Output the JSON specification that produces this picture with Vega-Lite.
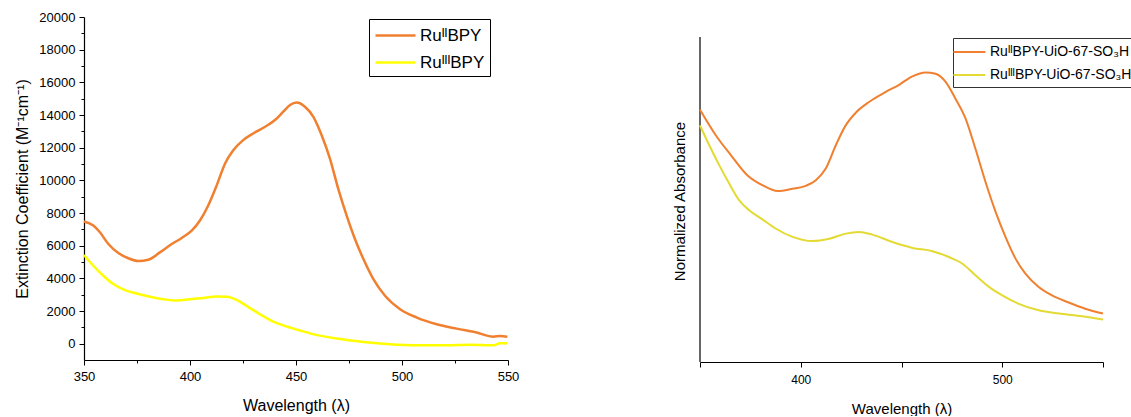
{
  "$schema": "https://vega.github.io/schema/vega-lite/v6.json",
  "background": "white",
  "padding": {"left": 14, "top": 11, "right": 0, "bottom": 0},
  "spacing": 153,
  "config": {
    "font": "Liberation Sans",
    "view": {"stroke": null},
    "axis": {"grid": false, "domainColor": "#000000", "tickColor": "#000000", "labelColor": "#000000", "titleColor": "#000000", "titleFontWeight": "normal", "labelFont": "Liberation Sans", "titleFont": "Liberation Sans"},
    "legend": {"labelFont": "Liberation Sans"}
  },
  "resolve": {"scale": {"color": "independent"}, "legend": {"color": "independent"}},
  "datasets": {
    "left": [
      {"wl": 350.0, "v": 7480, "s": "RuᴵᴵBPY"},
      {"wl": 354.4, "v": 7230, "s": "RuᴵᴵBPY"},
      {"wl": 357.5, "v": 6820, "s": "RuᴵᴵBPY"},
      {"wl": 361.5, "v": 6100, "s": "RuᴵᴵBPY"},
      {"wl": 366.2, "v": 5550, "s": "RuᴵᴵBPY"},
      {"wl": 370.9, "v": 5230, "s": "RuᴵᴵBPY"},
      {"wl": 375.6, "v": 5060, "s": "RuᴵᴵBPY"},
      {"wl": 380.3, "v": 5140, "s": "RuᴵᴵBPY"},
      {"wl": 385.8, "v": 5590, "s": "RuᴵᴵBPY"},
      {"wl": 391.4, "v": 6100, "s": "RuᴵᴵBPY"},
      {"wl": 396.1, "v": 6470, "s": "RuᴵᴵBPY"},
      {"wl": 400.8, "v": 6920, "s": "RuᴵᴵBPY"},
      {"wl": 404.7, "v": 7540, "s": "RuᴵᴵBPY"},
      {"wl": 408.6, "v": 8460, "s": "RuᴵᴵBPY"},
      {"wl": 412.6, "v": 9690, "s": "RuᴵᴵBPY"},
      {"wl": 416.5, "v": 11020, "s": "RuᴵᴵBPY"},
      {"wl": 420.4, "v": 11840, "s": "RuᴵᴵBPY"},
      {"wl": 425.1, "v": 12460, "s": "RuᴵᴵBPY"},
      {"wl": 429.8, "v": 12870, "s": "RuᴵᴵBPY"},
      {"wl": 435.4, "v": 13280, "s": "RuᴵᴵBPY"},
      {"wl": 440.1, "v": 13690, "s": "RuᴵᴵBPY"},
      {"wl": 444.0, "v": 14200, "s": "RuᴵᴵBPY"},
      {"wl": 447.2, "v": 14610, "s": "RuᴵᴵBPY"},
      {"wl": 450.3, "v": 14760, "s": "RuᴵᴵBPY"},
      {"wl": 454.2, "v": 14510, "s": "RuᴵᴵBPY"},
      {"wl": 458.2, "v": 13890, "s": "RuᴵᴵBPY"},
      {"wl": 462.1, "v": 12760, "s": "RuᴵᴵBPY"},
      {"wl": 466.0, "v": 11330, "s": "RuᴵᴵBPY"},
      {"wl": 469.9, "v": 9490, "s": "RuᴵᴵBPY"},
      {"wl": 473.9, "v": 7840, "s": "RuᴵᴵBPY"},
      {"wl": 477.8, "v": 6410, "s": "RuᴵᴵBPY"},
      {"wl": 481.8, "v": 5180, "s": "RuᴵᴵBPY"},
      {"wl": 486.5, "v": 3950, "s": "RuᴵᴵBPY"},
      {"wl": 492.0, "v": 2930, "s": "RuᴵᴵBPY"},
      {"wl": 499.1, "v": 2110, "s": "RuᴵᴵBPY"},
      {"wl": 507.0, "v": 1600, "s": "RuᴵᴵBPY"},
      {"wl": 516.4, "v": 1190, "s": "RuᴵᴵBPY"},
      {"wl": 525.8, "v": 920, "s": "RuᴵᴵBPY"},
      {"wl": 535.2, "v": 680, "s": "RuᴵᴵBPY"},
      {"wl": 543.1, "v": 430, "s": "RuᴵᴵBPY"},
      {"wl": 546.2, "v": 470, "s": "RuᴵᴵBPY"},
      {"wl": 549.7, "v": 430, "s": "RuᴵᴵBPY"},
      {"wl": 350.0, "v": 5430, "s": "RuᴵᴵᴵBPY"},
      {"wl": 354.4, "v": 4770, "s": "RuᴵᴵᴵBPY"},
      {"wl": 359.1, "v": 4160, "s": "RuᴵᴵᴵBPY"},
      {"wl": 363.8, "v": 3650, "s": "RuᴵᴵᴵBPY"},
      {"wl": 369.3, "v": 3280, "s": "RuᴵᴵᴵBPY"},
      {"wl": 374.8, "v": 3070, "s": "RuᴵᴵᴵBPY"},
      {"wl": 381.1, "v": 2870, "s": "RuᴵᴵᴵBPY"},
      {"wl": 387.4, "v": 2720, "s": "RuᴵᴵᴵBPY"},
      {"wl": 393.7, "v": 2640, "s": "RuᴵᴵᴵBPY"},
      {"wl": 400.0, "v": 2720, "s": "RuᴵᴵᴵBPY"},
      {"wl": 406.3, "v": 2800, "s": "RuᴵᴵᴵBPY"},
      {"wl": 412.6, "v": 2890, "s": "RuᴵᴵᴵBPY"},
      {"wl": 417.3, "v": 2870, "s": "RuᴵᴵᴵBPY"},
      {"wl": 422.0, "v": 2680, "s": "RuᴵᴵᴵBPY"},
      {"wl": 426.7, "v": 2310, "s": "RuᴵᴵᴵBPY"},
      {"wl": 433.0, "v": 1800, "s": "RuᴵᴵᴵBPY"},
      {"wl": 439.3, "v": 1350, "s": "RuᴵᴵᴵBPY"},
      {"wl": 445.6, "v": 1050, "s": "RuᴵᴵᴵBPY"},
      {"wl": 451.1, "v": 840, "s": "RuᴵᴵᴵBPY"},
      {"wl": 456.6, "v": 630, "s": "RuᴵᴵᴵBPY"},
      {"wl": 469.2, "v": 310, "s": "RuᴵᴵᴵBPY"},
      {"wl": 481.8, "v": 100, "s": "RuᴵᴵᴵBPY"},
      {"wl": 494.3, "v": -40, "s": "RuᴵᴵᴵBPY"},
      {"wl": 507.0, "v": -100, "s": "RuᴵᴵᴵBPY"},
      {"wl": 519.5, "v": -100, "s": "RuᴵᴵᴵBPY"},
      {"wl": 532.1, "v": -60, "s": "RuᴵᴵᴵBPY"},
      {"wl": 543.1, "v": -100, "s": "RuᴵᴵᴵBPY"},
      {"wl": 546.2, "v": 20, "s": "RuᴵᴵᴵBPY"},
      {"wl": 549.7, "v": 20, "s": "RuᴵᴵᴵBPY"}
    ],
    "right": [
      {"wl": 350.0, "v": 0.776, "s": "RuᴵᴵBPY-UiO-67-SO₃H"},
      {"wl": 357.9, "v": 0.697, "s": "RuᴵᴵBPY-UiO-67-SO₃H"},
      {"wl": 365.4, "v": 0.636, "s": "RuᴵᴵBPY-UiO-67-SO₃H"},
      {"wl": 373.6, "v": 0.574, "s": "RuᴵᴵBPY-UiO-67-SO₃H"},
      {"wl": 381.0, "v": 0.544, "s": "RuᴵᴵBPY-UiO-67-SO₃H"},
      {"wl": 388.5, "v": 0.526, "s": "RuᴵᴵBPY-UiO-67-SO₃H"},
      {"wl": 395.9, "v": 0.533, "s": "RuᴵᴵBPY-UiO-67-SO₃H"},
      {"wl": 402.5, "v": 0.542, "s": "RuᴵᴵBPY-UiO-67-SO₃H"},
      {"wl": 407.5, "v": 0.559, "s": "RuᴵᴵBPY-UiO-67-SO₃H"},
      {"wl": 412.4, "v": 0.595, "s": "RuᴵᴵBPY-UiO-67-SO₃H"},
      {"wl": 417.4, "v": 0.667, "s": "RuᴵᴵBPY-UiO-67-SO₃H"},
      {"wl": 422.3, "v": 0.728, "s": "RuᴵᴵBPY-UiO-67-SO₃H"},
      {"wl": 427.3, "v": 0.767, "s": "RuᴵᴵBPY-UiO-67-SO₃H"},
      {"wl": 433.9, "v": 0.800, "s": "RuᴵᴵBPY-UiO-67-SO₃H"},
      {"wl": 442.2, "v": 0.831, "s": "RuᴵᴵBPY-UiO-67-SO₃H"},
      {"wl": 448.8, "v": 0.853, "s": "RuᴵᴵBPY-UiO-67-SO₃H"},
      {"wl": 455.4, "v": 0.879, "s": "RuᴵᴵBPY-UiO-67-SO₃H"},
      {"wl": 462.0, "v": 0.891, "s": "RuᴵᴵBPY-UiO-67-SO₃H"},
      {"wl": 466.9, "v": 0.887, "s": "RuᴵᴵBPY-UiO-67-SO₃H"},
      {"wl": 471.9, "v": 0.862, "s": "RuᴵᴵBPY-UiO-67-SO₃H"},
      {"wl": 476.8, "v": 0.810, "s": "RuᴵᴵBPY-UiO-67-SO₃H"},
      {"wl": 481.8, "v": 0.749, "s": "RuᴵᴵBPY-UiO-67-SO₃H"},
      {"wl": 486.7, "v": 0.656, "s": "RuᴵᴵBPY-UiO-67-SO₃H"},
      {"wl": 491.7, "v": 0.554, "s": "RuᴵᴵBPY-UiO-67-SO₃H"},
      {"wl": 496.7, "v": 0.462, "s": "RuᴵᴵBPY-UiO-67-SO₃H"},
      {"wl": 501.6, "v": 0.385, "s": "RuᴵᴵBPY-UiO-67-SO₃H"},
      {"wl": 506.6, "v": 0.318, "s": "RuᴵᴵBPY-UiO-67-SO₃H"},
      {"wl": 511.5, "v": 0.272, "s": "RuᴵᴵBPY-UiO-67-SO₃H"},
      {"wl": 518.1, "v": 0.231, "s": "RuᴵᴵBPY-UiO-67-SO₃H"},
      {"wl": 524.7, "v": 0.205, "s": "RuᴵᴵBPY-UiO-67-SO₃H"},
      {"wl": 533.0, "v": 0.183, "s": "RuᴵᴵBPY-UiO-67-SO₃H"},
      {"wl": 541.2, "v": 0.164, "s": "RuᴵᴵBPY-UiO-67-SO₃H"},
      {"wl": 550.0, "v": 0.149, "s": "RuᴵᴵBPY-UiO-67-SO₃H"},
      {"wl": 350.0, "v": 0.728, "s": "RuᴵᴵᴵBPY-UiO-67-SO₃H"},
      {"wl": 354.6, "v": 0.667, "s": "RuᴵᴵᴵBPY-UiO-67-SO₃H"},
      {"wl": 359.6, "v": 0.605, "s": "RuᴵᴵᴵBPY-UiO-67-SO₃H"},
      {"wl": 364.5, "v": 0.549, "s": "RuᴵᴵᴵBPY-UiO-67-SO₃H"},
      {"wl": 369.5, "v": 0.497, "s": "RuᴵᴵᴵBPY-UiO-67-SO₃H"},
      {"wl": 374.4, "v": 0.467, "s": "RuᴵᴵᴵBPY-UiO-67-SO₃H"},
      {"wl": 381.0, "v": 0.439, "s": "RuᴵᴵᴵBPY-UiO-67-SO₃H"},
      {"wl": 387.7, "v": 0.410, "s": "RuᴵᴵᴵBPY-UiO-67-SO₃H"},
      {"wl": 395.9, "v": 0.385, "s": "RuᴵᴵᴵBPY-UiO-67-SO₃H"},
      {"wl": 405.8, "v": 0.372, "s": "RuᴵᴵᴵBPY-UiO-67-SO₃H"},
      {"wl": 414.1, "v": 0.379, "s": "RuᴵᴵᴵBPY-UiO-67-SO₃H"},
      {"wl": 422.3, "v": 0.395, "s": "RuᴵᴵᴵBPY-UiO-67-SO₃H"},
      {"wl": 428.9, "v": 0.400, "s": "RuᴵᴵᴵBPY-UiO-67-SO₃H"},
      {"wl": 435.5, "v": 0.392, "s": "RuᴵᴵᴵBPY-UiO-67-SO₃H"},
      {"wl": 445.5, "v": 0.369, "s": "RuᴵᴵᴵBPY-UiO-67-SO₃H"},
      {"wl": 455.4, "v": 0.351, "s": "RuᴵᴵᴵBPY-UiO-67-SO₃H"},
      {"wl": 465.3, "v": 0.341, "s": "RuᴵᴵᴵBPY-UiO-67-SO₃H"},
      {"wl": 473.5, "v": 0.323, "s": "RuᴵᴵᴵBPY-UiO-67-SO₃H"},
      {"wl": 480.1, "v": 0.303, "s": "RuᴵᴵᴵBPY-UiO-67-SO₃H"},
      {"wl": 486.7, "v": 0.267, "s": "RuᴵᴵᴵBPY-UiO-67-SO₃H"},
      {"wl": 493.4, "v": 0.231, "s": "RuᴵᴵᴵBPY-UiO-67-SO₃H"},
      {"wl": 500.0, "v": 0.205, "s": "RuᴵᴵᴵBPY-UiO-67-SO₃H"},
      {"wl": 508.2, "v": 0.179, "s": "RuᴵᴵᴵBPY-UiO-67-SO₃H"},
      {"wl": 518.1, "v": 0.159, "s": "RuᴵᴵᴵBPY-UiO-67-SO₃H"},
      {"wl": 528.0, "v": 0.149, "s": "RuᴵᴵᴵBPY-UiO-67-SO₃H"},
      {"wl": 539.6, "v": 0.141, "s": "RuᴵᴵᴵBPY-UiO-67-SO₃H"},
      {"wl": 550.0, "v": 0.131, "s": "RuᴵᴵᴵBPY-UiO-67-SO₃H"}
    ]
  },
  "hconcat": [
    {
      "width": 424,
      "height": 343,
      "data": {"name": "left"},
      "mark": {"type": "line", "strokeWidth": 2.5, "interpolate": "monotone"},
      "encoding": {
        "x": {"field": "wl", "type": "quantitative", "scale": {"domain": [350, 550], "nice": false},
          "axis": {"title": "Wavelength (λ)", "titleFontSize": 16, "titlePadding": 14, "labelFontSize": 13,
            "values": [350, 375, 400, 425, 450, 475, 500, 525, 550],
            "labelExpr": "datum.value % 50 == 0 ? datum.label : ''",
            "tickSize": {"condition": {"test": "datum.value % 50 == 0", "value": 5}, "value": 3},
            "labelPadding": 5, "domainWidth": 1.2, "labelFlush": false}},
        "y": {"field": "v", "type": "quantitative", "scale": {"domain": [-1000, 20000], "nice": false, "zero": false},
          "axis": {"title": "Extinction Coefficient (M⁻¹cm⁻¹)", "titleFontSize": 16, "titlePadding": 8, "labelFontSize": 13,
            "values": [0, 1000, 2000, 3000, 4000, 5000, 6000, 7000, 8000, 9000, 10000, 11000, 12000, 13000, 14000, 15000, 16000, 17000, 18000, 19000, 20000],
            "labelExpr": "datum.value % 2000 == 0 ? datum.label : ''",
            "format": "d",
            "tickSize": {"condition": {"test": "datum.value % 2000 == 0", "value": 5}, "value": 3},
            "labelPadding": 4, "domainWidth": 1.2, "labelFlush": false}},
        "color": {"field": "s", "type": "nominal", "sort": ["RuᴵᴵBPY", "RuᴵᴵᴵBPY"],
          "scale": {"domain": ["RuᴵᴵBPY", "RuᴵᴵᴵBPY"], "range": ["#F08030", "#FFFF00"]},
          "legend": {"title": null, "orient": "none", "legendX": 285, "legendY": 2, "symbolType": "M-1,0H3", "symbolSize": 400, "symbolStrokeWidth": 2.5,
            "labelFontSize": 17, "labelOffset": 23, "strokeColor": "#000000", "padding": 5, "rowPadding": 7, "labelLimit": 300}},
        "detail": {"field": "s"}
      }
    },
    {
      "width": 403,
      "height": 345,
      "layer": [
        {
          "data": {"values": [{}]},
          "mark": {"type": "rule", "color": "#000000", "strokeWidth": 1.2},
          "encoding": {
            "x": {"datum": 350, "type": "quantitative", "scale": {"domain": [350, 550], "nice": false, "zero": false},
              "axis": {"title": "Wavelength (λ)", "titleFontSize": 15, "titlePadding": 16, "labelFontSize": 12,
                "values": [350, 400, 450, 500, 550],
                "labelExpr": "datum.value % 100 == 0 ? datum.label : ''",
                "tickSize": 5, "labelPadding": 7, "domainWidth": 1.2}},
            "y": {"datum": 0, "type": "quantitative", "scale": {"domain": [0, 1.0615], "nice": false, "zero": false},
              "axis": {"title": "Normalized Absorbance", "titleFontSize": 15, "titlePadding": 13, "labels": false, "ticks": false, "domain": false, "titleY": 184}},
            "y2": {"datum": 1}
          }
        },
        {
          "data": {"name": "right"},
          "mark": {"type": "line", "strokeWidth": 2, "interpolate": "monotone"},
          "encoding": {
            "x": {"field": "wl", "type": "quantitative", "scale": {"domain": [350, 550], "nice": false, "zero": false},
              "axis": {"title": "Wavelength (λ)", "titleFontSize": 15, "titlePadding": 16, "labelFontSize": 12,
                "values": [350, 400, 450, 500, 550],
                "labelExpr": "datum.value % 100 == 0 ? datum.label : ''",
                "tickSize": 5, "labelPadding": 7, "domainWidth": 1.2}},
            "y": {"field": "v", "type": "quantitative", "scale": {"domain": [0, 1.0615], "nice": false, "zero": false},
              "axis": {"title": "Normalized Absorbance", "titleFontSize": 15, "titlePadding": 13, "labels": false, "ticks": false, "domain": false, "titleY": 184}},
            "color": {"field": "s", "type": "nominal",
              "scale": {"domain": ["RuᴵᴵBPY-UiO-67-SO₃H", "RuᴵᴵᴵBPY-UiO-67-SO₃H"], "range": ["#F08030", "#E3DA33"]},
              "legend": {"title": null, "orient": "none", "legendX": 253, "legendY": 21, "symbolType": "M-1.7,0H2.3", "symbolSize": 256, "symbolStrokeWidth": 2,
                "labelFontSize": 14, "labelOffset": 14, "strokeColor": "#333333", "padding": 5, "rowPadding": 7, "labelLimit": 300}}
          }
        }
      ]
    }
  ]
}
